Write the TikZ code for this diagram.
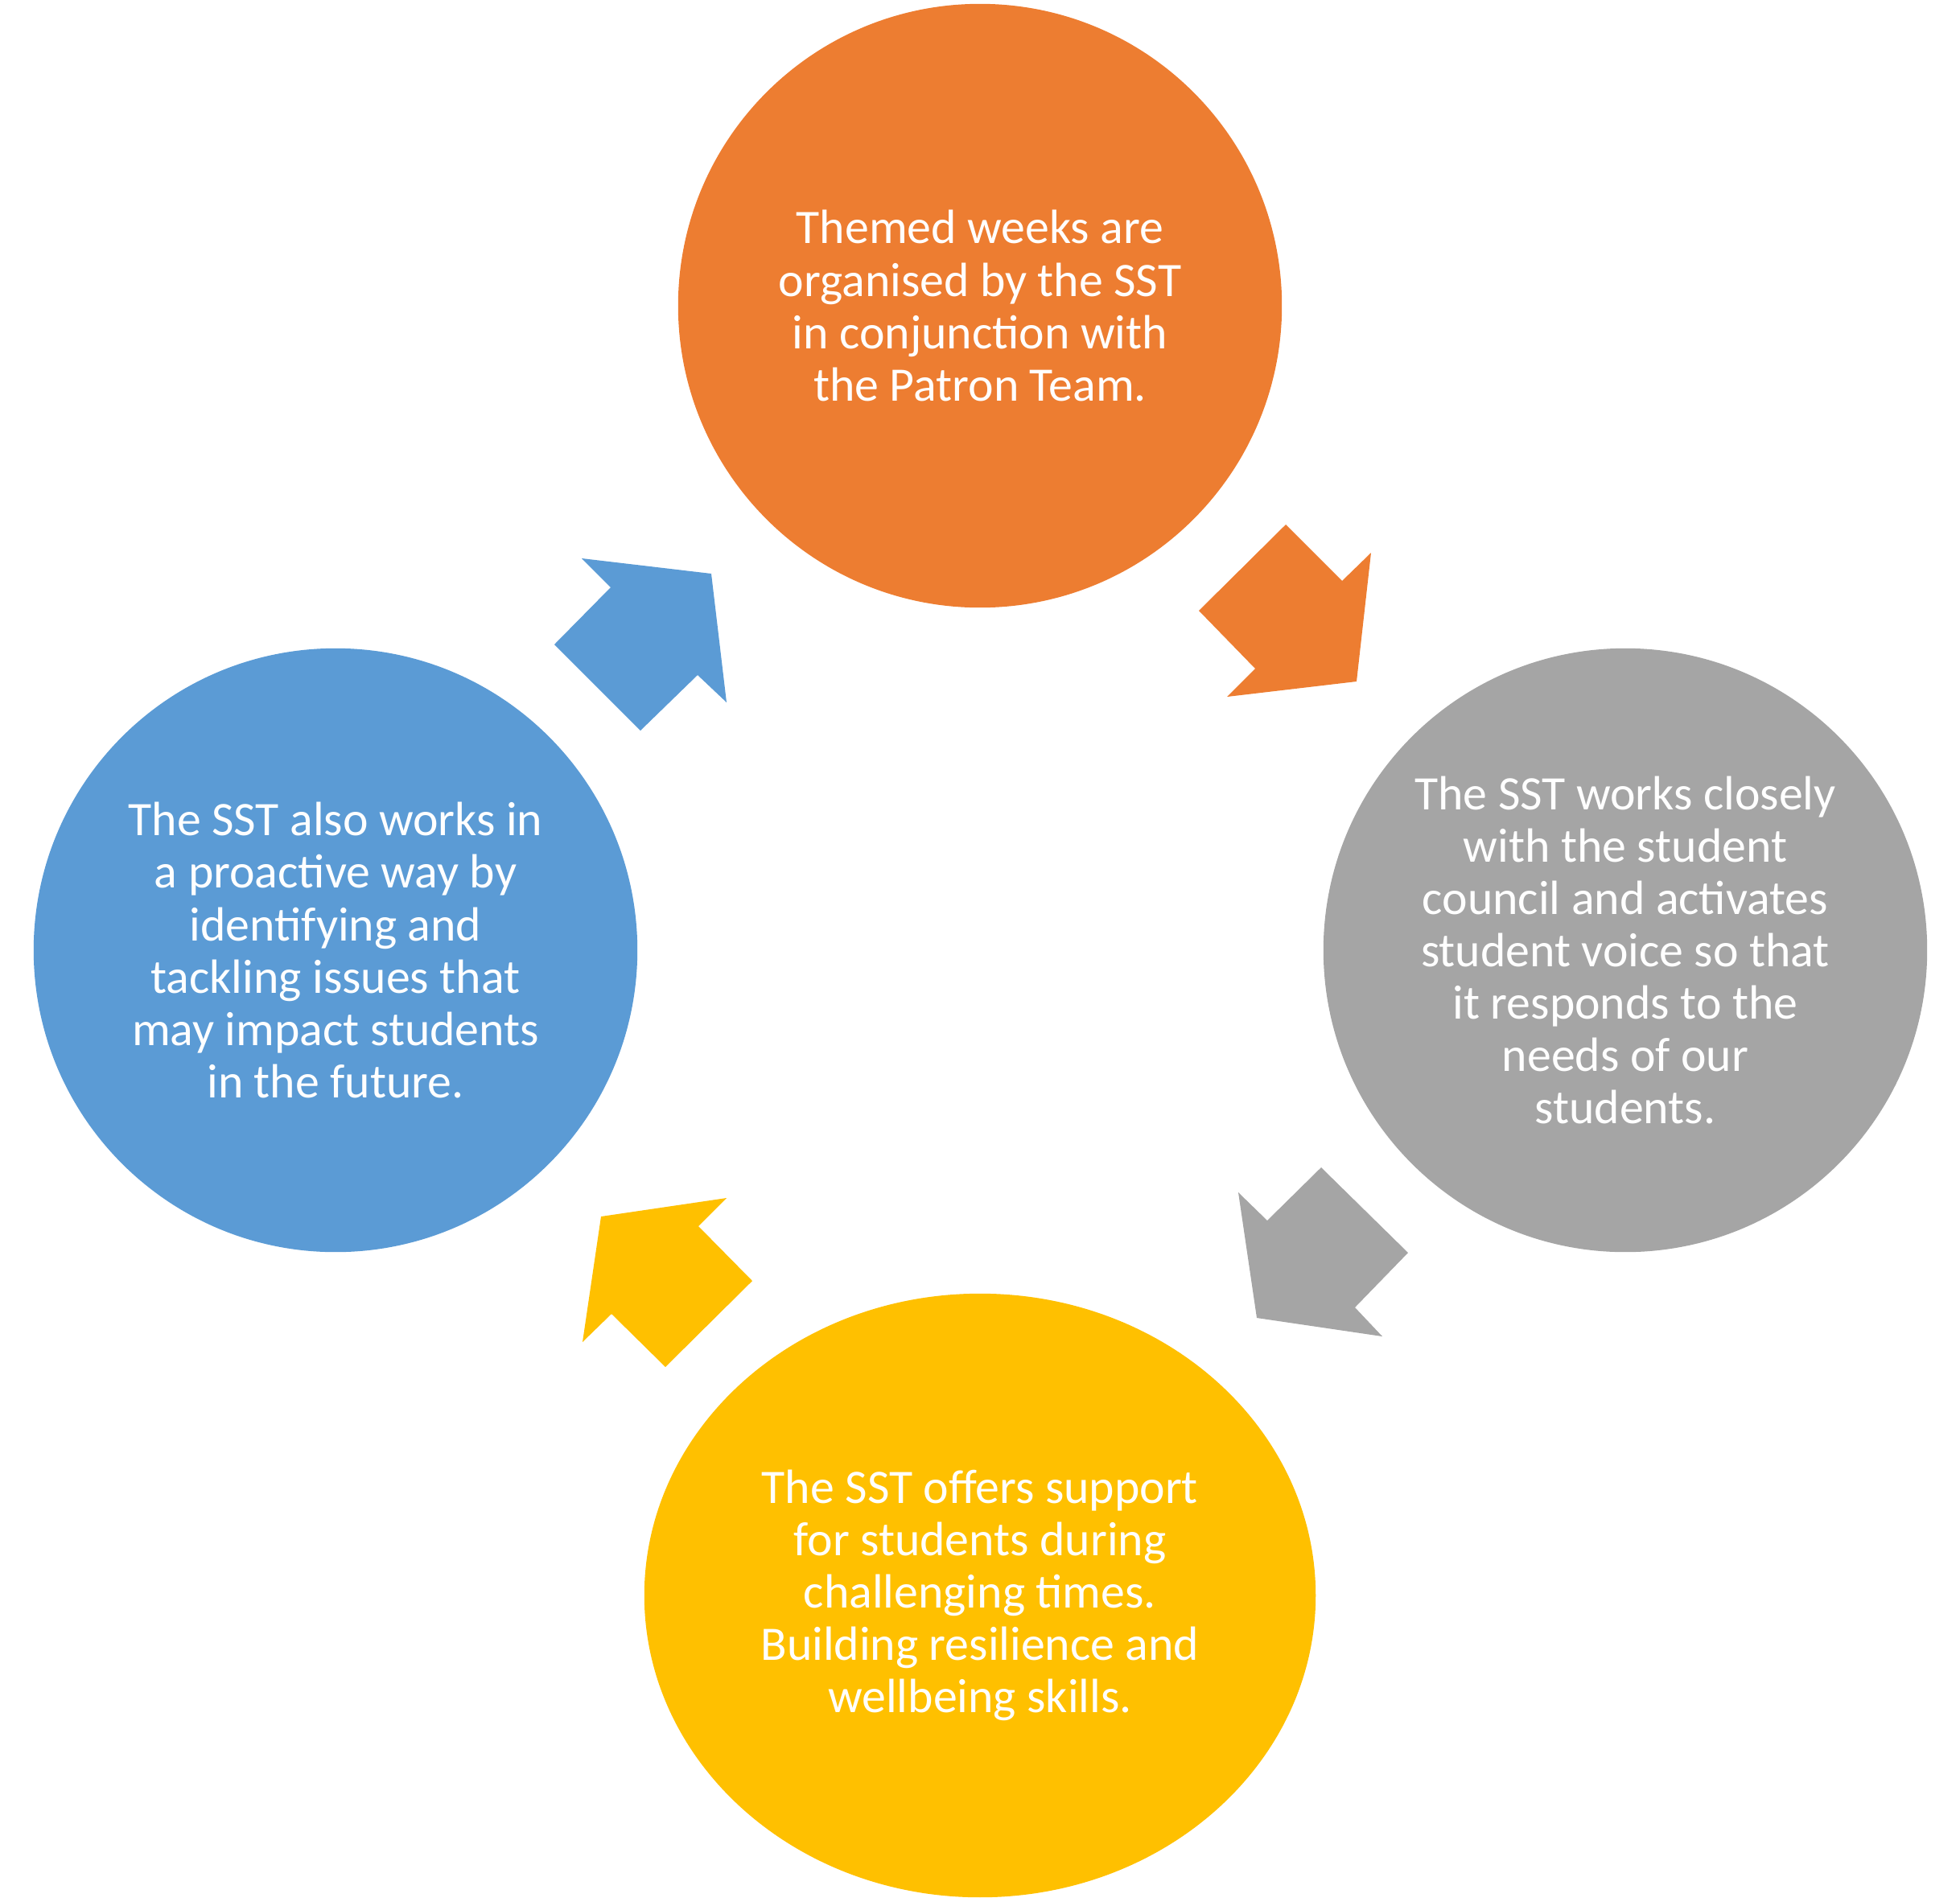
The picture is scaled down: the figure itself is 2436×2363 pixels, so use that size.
\documentclass[tikz,border=0pt]{standalone}
\usepackage{fontspec}
\setmainfont{Carlito}
\usepackage{tikz}
\usetikzlibrary{shapes.geometric}
\definecolor{COrange}{HTML}{ED7D31}
\definecolor{CGray}{HTML}{A5A5A5}
\definecolor{CYellow}{HTML}{FFC000}
\definecolor{CBlue}{HTML}{5B9BD5}

\tikzset{
  stage/.style={
    circle,
    fill=#1,
    text=white,
    align=center,
    inner sep=0pt,
    minimum size=7.5cm,
    font=\fontsize{17}{18.5}\selectfont
  }
}

\begin{document}
\begin{tikzpicture}[x=0.01cm,y=-0.01cm]
  \useasboundingbox (0,0) rectangle (2436,2363);

  % stages of the cycle
  \node[stage=COrange] (themed) at (1218,380)
    {Themed weeks are\\organised by the SST\\in conjunction with\\the Patron Team.};
  \node[stage=CGray] (council) at (2020,1181)
    {The SST works closely\\with the student\\council and activates\\student voice so that\\it responds to the\\needs of our\\students.};
  \node[stage=CYellow, ellipse, minimum width=8.34cm, minimum height=7.5cm] (support) at (1218,1983)
    {The SST offers support\\for students during\\challenging times.\\Building resilience and\\wellbeing skills.};
  \node[stage=CBlue] (proactive) at (417,1181)
    {The SST also works in\\a proactive way by\\identifying and\\tackling issues that\\may impact students\\in the future.};

  % block arrows between stages
  \fill[COrange] (1598,652) -- (1668,722) -- (1704,687) -- (1686,847)
    -- (1525,866) -- (1560,831) -- (1490,759) -- cycle;
  \fill[CGray] (1642,1451) -- (1750,1557) -- (1684,1625) -- (1718,1661)
    -- (1562,1638) -- (1539,1482) -- (1575,1517) -- cycle;
  \fill[CYellow] (903,1489) -- (747,1512) -- (724,1668) -- (760,1633)
    -- (827,1699) -- (935,1592) -- (868,1524) -- cycle;
  \fill[CBlue] (723,694) -- (884,713) -- (903,873) -- (867,839)
    -- (796,908) -- (689,801) -- (759,730) -- cycle;
\end{tikzpicture}
\end{document}
